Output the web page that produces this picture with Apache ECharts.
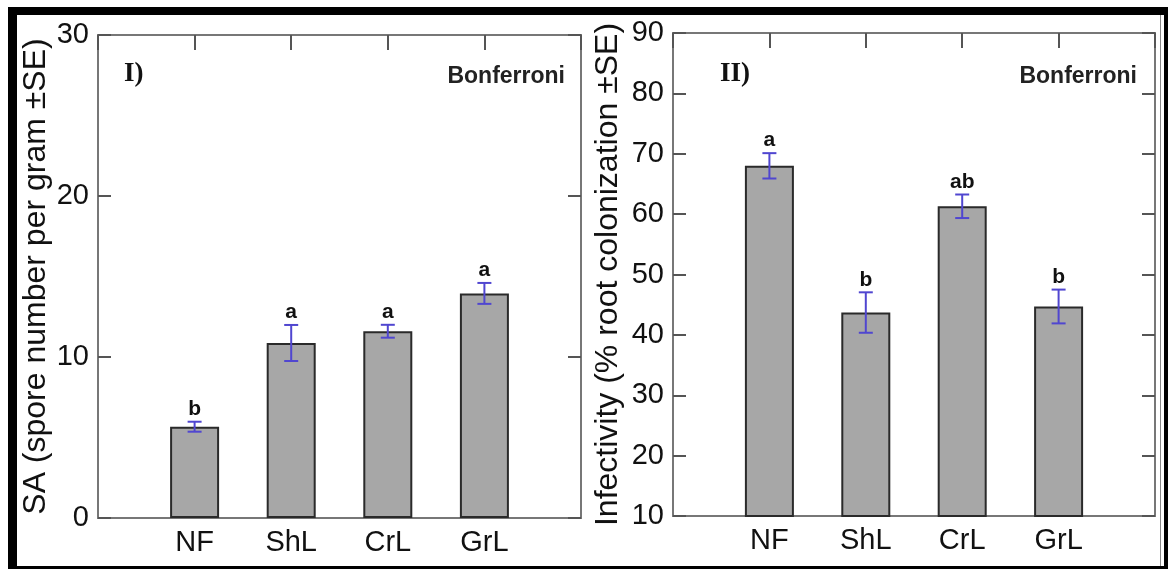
<!DOCTYPE html>
<html><head><meta charset="utf-8">
<script src="https://cdn.jsdelivr.net/npm/echarts@6/dist/echarts.min.js"></script>
<style>html,body{margin:0;padding:0;background:#fff}#c{width:1173px;height:569px}</style>
</head><body><div id="c"></div>
<script>
const categories = ['NF', 'ShL', 'CrL', 'GrL'];
const sporeMean = [5.67, 10.87, 11.6, 13.95];
const sporeSE = [0.31, 1.12, 0.4, 0.65];
const sporeLetters = ['b', 'a', 'a', 'a'];
const sporeTicks = [0, 10, 20, 30];
const infMean = [68.0, 43.7, 61.3, 44.7];
const infSE = [2.1, 3.35, 1.95, 2.8];
const infLetters = ['a', 'b', 'ab', 'b'];
const infTicks = [10, 20, 30, 40, 50, 60, 70, 80, 90];
const sporeTitle = 'SA (spore number per gram \u00b1SE)';
const infTitle = 'Infectivity (% root colonization \u00b1SE)';

const FONT = '"Liberation Sans", Arial, Helvetica, sans-serif';
const SERIF = '"Liberation Serif", "Times New Roman", serif';
const padded = [''].concat(categories, ['']);
const barData = m => ['-'].concat(m, ['-']);
const errData = (m, se) => m.map((v, i) => [i + 1, v - se[i], v + se[i]]);
const tickColor = '#555';

function errRender(letters) {
  return function (params, api) {
    const x = api.value(0);
    const top = api.coord([x, api.value(2)]);
    const bot = api.coord([x, api.value(1)]);
    const hw = 7;
    const st = { stroke: '#5046d0', lineWidth: 2 };
    return {
      type: 'group', children: [
        { type: 'line', shape: { x1: top[0], y1: top[1], x2: bot[0], y2: bot[1] }, style: st },
        { type: 'line', shape: { x1: top[0] - hw, y1: top[1], x2: top[0] + hw, y2: top[1] }, style: st },
        { type: 'line', shape: { x1: bot[0] - hw, y1: bot[1], x2: bot[0] + hw, y2: bot[1] }, style: st },
        { type: 'text', x: top[0], y: top[1] - 2, style: { text: letters[params.dataIndex], fill: '#111', font: 'bold 21px ' + FONT, align: 'center', verticalAlign: 'bottom' } }
      ]
    };
  };
}

function xAxes(g) {
  return [
    { gridIndex: g, type: 'category', data: padded, boundaryGap: false,
      axisLine: { show: false, onZero: false }, axisTick: { show: false },
      axisLabel: { interval: 0, fontSize: 29, color: '#111', fontFamily: FONT, margin: 10 } },
    { gridIndex: g, type: 'category', position: 'top', data: padded, boundaryGap: false,
      axisLine: { show: false, onZero: false },
      axisTick: { show: true, interval: 0, inside: true, length: 15, lineStyle: { color: tickColor, width: 2 } },
      axisLabel: { show: false } }
  ];
}
function yAxes(g, ticks, title, gap) {
  const mn = ticks[0], mx = ticks[ticks.length - 1], iv = ticks[1] - ticks[0];
  return [
    { gridIndex: g, type: 'value', min: mn, max: mx, interval: iv,
      axisLine: { show: false, onZero: false }, splitLine: { show: false },
      axisTick: { show: true, inside: true, length: 13, lineStyle: { color: tickColor, width: 2 } },
      axisLabel: { fontSize: 29, color: '#111', fontFamily: FONT, margin: 9 },
      name: title, nameLocation: 'middle', nameGap: gap, nameRotate: 90, nameMoveOverlap: false,
      nameTextStyle: { fontSize: 32, color: '#111', fontFamily: FONT } },
    { gridIndex: g, type: 'value', position: 'right', min: mn, max: mx, interval: iv,
      axisLine: { show: false, onZero: false }, splitLine: { show: false },
      axisTick: { show: true, inside: true, length: 13, lineStyle: { color: tickColor, width: 2 } },
      axisLabel: { show: false } }
  ];
}

const barStyle = { color: '#a7a7a7', borderColor: '#2a2a2a', borderWidth: 2 };

const option = {
  backgroundColor: '#fff',
  animation: false,
  grid: [
    { left: 98, top: 35, width: 483, height: 483, show: true, borderColor: '#777', borderWidth: 2 },
    { left: 673, top: 33, width: 482, height: 483, show: true, borderColor: '#777', borderWidth: 2 }
  ],
  xAxis: xAxes(0).concat(xAxes(1)),
  yAxis: yAxes(0, sporeTicks, sporeTitle, 46).concat(yAxes(1, infTicks, infTitle, 49)),
  series: [
    { type: 'bar', xAxisIndex: 0, yAxisIndex: 0, data: barData(sporeMean), barWidth: 49, itemStyle: barStyle },
    { type: 'custom', xAxisIndex: 0, yAxisIndex: 0, data: errData(sporeMean, sporeSE), renderItem: errRender(sporeLetters), z: 5 },
    { type: 'bar', xAxisIndex: 2, yAxisIndex: 2, data: barData(infMean), barWidth: 49, itemStyle: barStyle },
    { type: 'custom', xAxisIndex: 2, yAxisIndex: 2, data: errData(infMean, infSE), renderItem: errRender(infLetters), z: 5 }
  ],
  graphic: [
    { type: 'rect', shape: { x: 8, y: 7, width: 1160, height: 8 }, style: { fill: '#000' } },
    { type: 'rect', shape: { x: 8, y: 7, width: 9, height: 562 }, style: { fill: '#000' } },
    { type: 'rect', shape: { x: 8, y: 566, width: 1160, height: 3 }, style: { fill: '#000' } },
    { type: 'rect', shape: { x: 1164, y: 7, width: 4, height: 562 }, style: { fill: '#000' } },
    { type: 'rect', shape: { x: 1160, y: 15, width: 1, height: 551 }, style: { fill: '#888' } },
    { type: 'text', x: 124, y: 74, style: { text: 'I)', font: 'bold 27px ' + SERIF, fill: '#111', align: 'left', verticalAlign: 'middle' } },
    { type: 'text', x: 720, y: 74, style: { text: 'II)', font: 'bold 27px ' + SERIF, fill: '#111', align: 'left', verticalAlign: 'middle' } },
    { type: 'text', x: 565, y: 77, style: { text: 'Bonferroni', font: 'bold 23px ' + FONT, fill: '#222', align: 'right', verticalAlign: 'middle' } },
    { type: 'text', x: 1137, y: 77, style: { text: 'Bonferroni', font: 'bold 23px ' + FONT, fill: '#222', align: 'right', verticalAlign: 'middle' } }
  ]
};
const chart = echarts.init(document.getElementById('c'), null, { renderer: 'canvas' });
chart.setOption(option);
</script></body></html>
